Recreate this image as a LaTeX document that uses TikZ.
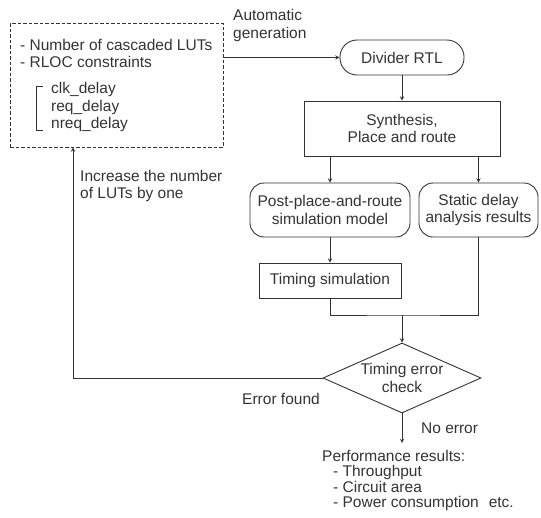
\documentclass[tikz,border=0pt]{standalone}
\usepackage{fontspec}
\setmainfont{Liberation Sans}
\usetikzlibrary{shapes.geometric,calc}
\begin{document}
\begin{tikzpicture}[x=1pt, y=-1pt, >=stealth, color=black!80,
    font=\fontsize{15.5}{17.5}\selectfont]
      \tikzstyle{line}=[draw, line width=0.9pt]
      \tikzstyle{block}=[line, rectangle, align=center, inner sep=3pt]
      \tikzstyle{roundblock}=[block, rounded corners=14pt]
      \tikzstyle{decision}=[line, diamond, align=center, inner sep=0pt, aspect=2.26]
      \tikzstyle{txt}=[align=left, inner sep=0pt]
      \useasboundingbox (0,0) rectangle (541,517);

      % draw boxes

      \node [line, dash pattern=on 3.5pt off 2pt, minimum width=213pt, minimum height=124pt] (params) at (116.5,85) {};
      \node [roundblock, rounded corners=17pt, minimum width=124pt, minimum height=35pt] (rtl) at (402,57.5) {Divider RTL};
      \node [block, minimum width=196pt, minimum height=55pt] (synth) at (402,128.5) {Synthesis,\\Place and route};
      \node [roundblock, minimum width=160pt, minimum height=54pt] (post) at (330,210) {Post-place-and-route\\simulation model};
      \node [roundblock, minimum width=119pt, minimum height=54pt] (sta) at (478.5,210) {Static delay\\analysis results};
      \node [block, minimum width=142pt, minimum height=35pt] (tsim) at (330,280.5) {Timing simulation};
      \node [decision, minimum width=158pt, minimum height=70pt] (check) at (402,378) {Timing error\\check};

      % draw text

      \foreach \l [count=\y] in {- Number of cascaded LUTs, - RLOC constraints}
      \node [txt, anchor=west] (param-\y) at (20,28+\y*17) {\l};

      \foreach \l [count=\y] in {clk\_delay, req\_delay, nreq\_delay}
      \node [txt, anchor=west] (delay-\y) at (51,72+\y*17.5) {\l};

      \draw [line] (43,86) -- (36.5,86) -- (36.5,130) -- (43,130);

      \node [txt, anchor=west] (autogen) at (233,25.5) {Automatic\\generation};
      \node [txt, anchor=west] (incr) at (80,186) {Increase the number\\of LUTs by one};
      \node [txt] (errfound) at (281,399) {Error found};
      \node [txt, anchor=west] (noerr) at (421,428) {No error};
      \node [txt, anchor=north west, font=\fontsize{15.5}{15.3}\selectfont] (perf) at (322,450)
        {Performance results:\\\hspace*{11pt}- Throughput\\\hspace*{11pt}- Circuit area\\\hspace*{11pt}- Power consumption\hspace{10pt}etc.};

      % draw lines

      \coordinate (join) at (402,315);
      \coordinate (back) at (73,378);

      \draw [line, ->] (params.east |- rtl.west) -- (rtl.west);
      \draw [line, ->] (rtl) -- (synth);
      \draw [line, ->] (synth.south -| post) -- (post);
      \draw [line, ->] (synth.south -| sta) -- (sta);
      \draw [line, ->] (post) -- (tsim);
      \draw [line] (tsim.south) |- (join) -| (sta.south);
      \draw [line, ->] (join) -- (check.north);
      \draw [line, ->] (check.west) -- (back) -- (back |- params.south);
      \draw [line, ->] (check.south) -- ($(check.south |- perf.north)+(0,-7)$);

    \end{tikzpicture}
\end{document}
